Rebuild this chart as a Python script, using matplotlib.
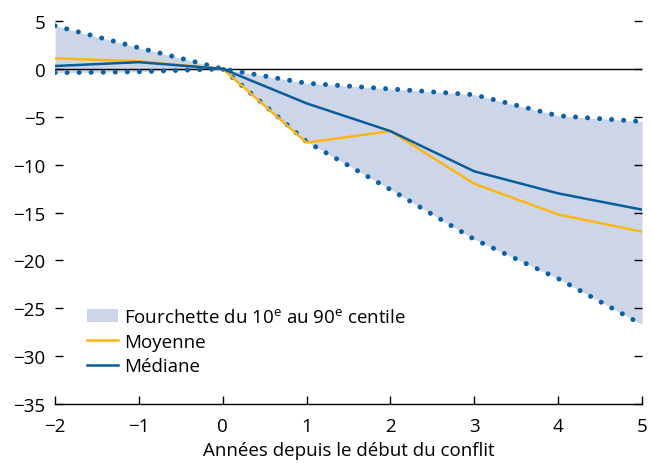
import matplotlib
matplotlib.use("Agg")
import matplotlib.pyplot as plt
from matplotlib.patches import Patch
from matplotlib.lines import Line2D

years = [-2, -1, 0, 1, 2, 3, 4, 5]
p90 = [4.5, 2.2, 0.0, -1.5, -2.1, -2.7, -4.9, -5.5]
p10 = [-0.4, -0.3, 0.0, -7.6, -12.6, -17.8, -21.9, -26.7]
mean = [1.1, 0.8, 0.0, -7.7, -6.5, -12.0, -15.2, -17.0]
median = [0.3, 0.7, 0.0, -3.6, -6.5, -10.7, -13.0, -14.7]
yticks = [5, 0, -5, -10, -15, -20, -25, -30, -35]

FONT = "Open Sans"
plt.rcParams['font.family'] = [FONT, 'DejaVu Sans']
plt.rcParams['mathtext.fontset'] = 'custom'
plt.rcParams['mathtext.rm'] = FONT
plt.rcParams['mathtext.it'] = FONT
plt.rcParams['axes.unicode_minus'] = True

FILL = "#CDD6E9"
BLUE = "#0A5C9B"
DOT = "#0B62A8"
ORANGE = "#FDB515"
FS = 13.5

fig = plt.figure(figsize=(6.52, 4.64), dpi=100)
ax = fig.add_axes([0.0844, 0.127, 0.9003, 0.8256])

ax.fill_between(years, p10, p90, color=FILL, lw=0, zorder=1)
ax.axhline(0, color="black", lw=1.0, zorder=2)
ax.plot(years, p90, color=DOT, lw=3.6, linestyle=(0, (0.01, 2.4)),
        dash_capstyle='round', zorder=3)
ax.plot(years, p10, color=DOT, lw=3.6, linestyle=(0, (0.01, 2.4)),
        dash_capstyle='round', zorder=3)
ax.plot(years, mean, color=ORANGE, lw=1.8, zorder=4)
ax.plot(years, median, color=BLUE, lw=1.8, zorder=5)

ax.set_xlim(-2, 5)
ax.set_ylim(-35, 5)
ax.set_xticks(years)
ax.set_yticks(yticks)
for s in ['top', 'left', 'right']:
    ax.spines[s].set_visible(False)
ax.spines['bottom'].set_linewidth(1.0)
ax.tick_params(axis='x', direction='in', length=6, width=1, labelsize=FS, pad=9.5)
ax.tick_params(axis='y', direction='in', length=6, width=1, labelsize=FS,
               left=True, right=True, labelleft=True, labelright=False, pad=7)
ax.set_xlabel("Années depuis le début du conflit", fontsize=FS, labelpad=4)

handles = [Patch(facecolor=FILL, edgecolor='none'),
           Line2D([0], [0], color=ORANGE, lw=1.8),
           Line2D([0], [0], color=BLUE, lw=1.8)]
labels = [r"Fourchette du 10$^{\mathrm{e}}$ au 90$^{\mathrm{e}}$ centile", "Moyenne", "Médiane"]
ax.legend(handles, labels, loc='upper left', bbox_to_anchor=(0.041, 0.27),
          frameon=False, fontsize=FS, handlelength=1.7, handletextpad=0.3,
          labelspacing=0.35, borderaxespad=0)

fig.savefig("out.png", dpi=100)
